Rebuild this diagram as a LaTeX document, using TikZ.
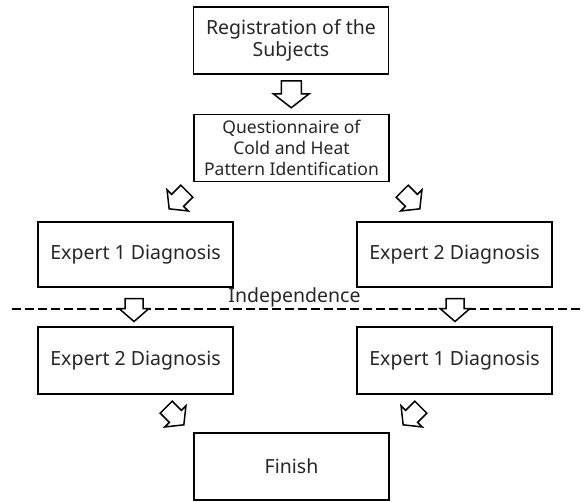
\documentclass[tikz,border=0pt]{standalone}
\usepackage{fontspec}
\setmainfont{Noto Sans}
\usetikzlibrary{calc}
\tikzset{
  box/.style={draw=black, line width=1.8pt, minimum width=195pt, minimum height=67pt, inner sep=0pt, align=center, text=black!85, font=\fontsize{19.5}{22}\selectfont},
  smallbox/.style={box, font=\fontsize{17.5}{21}\selectfont},
  arrowline/.style={draw=black, line width=1.5pt, fill=white, line join=miter},
  sepline/.style={line width=2pt, dash pattern=on 9pt off 4pt}
}
% #1 coordinate, #2 angle, #3 length, #4 head length, #5 shaft half width, #6 head half width
\newcommand\blockarrow[6]{%
  \draw[arrowline, shift={(#1)}, rotate=#2]
    ({-0.5*#3pt},{#5pt}) -- ({0.5*#3pt-#4pt},{#5pt}) -- ({0.5*#3pt-#4pt},{#6pt}) --
    ({0.5*#3pt},{0pt}) -- ({0.5*#3pt-#4pt},{-#6pt}) -- ({0.5*#3pt-#4pt},{-#5pt}) --
    ({-0.5*#3pt},{-#5pt}) -- cycle;}
\begin{document}
\begin{tikzpicture}[x=1pt, y=-1pt]
\useasboundingbox (0,0) rectangle (584,501);
\node[box] (reg) at (291,40.5) {Registration of the\\Subjects};
\node[smallbox] (quest) at (291.5,148) {Questionnaire of\\Cold and Heat\\Pattern Identification};
\node[box, minimum height=65pt] (e1a) at (135.5,254.5) {Expert 1 Diagnosis};
\node[box, minimum height=65pt] (e2a) at (454.5,254.5) {Expert 2 Diagnosis};
\node[box] (e2b) at (135.5,360.5) {Expert 2 Diagnosis};
\node[box] (e1b) at (454.5,360.5) {Expert 1 Diagnosis};
\node[box] (fin) at (291.5,466.5) {Finish};

\coordinate (sepL) at (12,309);
\coordinate (sepR) at (580,309);
\draw[sepline] (sepL) -- (sepR);
\node[text=black!85, font=\fontsize{19.5}{22}\selectfont, anchor=base] (ind) at (294.5,302) {Independence};

\coordinate (a1) at ($(reg.south)!0.5!(quest.north)$);
\coordinate (a2) at (178,200);
\coordinate (a3) at (411,200);
\coordinate (a4) at (134,310);
\coordinate (a5) at (455,310);
\coordinate (a6) at (175,416);
\coordinate (a7) at (412,416);
\blockarrow{a1}{-90}{27}{14}{10}{18}
\blockarrow{a2}{-135}{25}{12}{8.5}{15}
\blockarrow{a3}{-45}{25}{12}{8.5}{15}
\blockarrow{a4}{-90}{23}{13}{9}{15}
\blockarrow{a5}{-90}{23}{13}{9}{15}
\blockarrow{a6}{-45}{25}{12}{8.5}{15}
\blockarrow{a7}{-135}{25}{12}{8.5}{15}
\end{tikzpicture}
\end{document}
